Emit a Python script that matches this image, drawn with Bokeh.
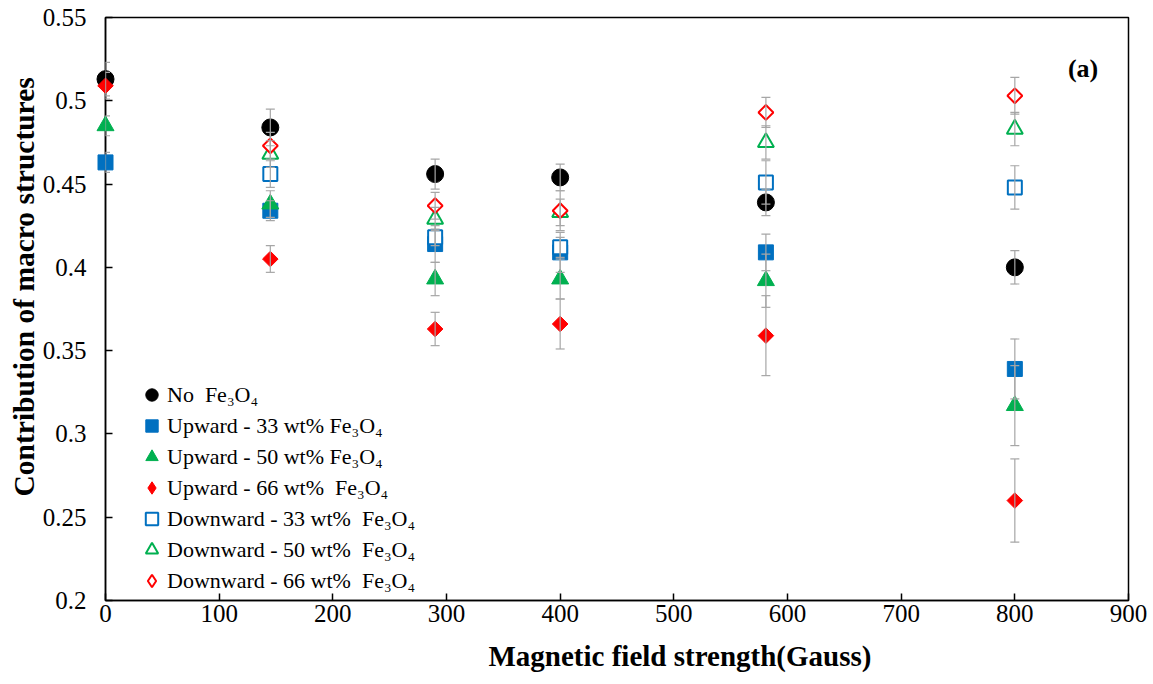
import math
from bokeh.plotting import figure
from bokeh.models import (Range1d, SingleIntervalTicker, NumeralTickFormatter, Whisker,
                          TeeHead, ColumnDataSource, Legend, LegendItem, Label, Title)
from bokeh.embed import file_html
from bokeh.resources import INLINE

x_vals = [0, 145, 290, 400, 581, 800]
x_down = [145, 290, 400, 581, 800]

no_fe = [0.513, 0.484, 0.456, 0.454, 0.439, 0.400]
no_fe_err = [0.010, 0.011, 0.009, 0.008, 0.008, 0.010]

up33 = [0.463, 0.434, 0.414, 0.409, 0.409, 0.339]
up33_err = [0.006, 0.006, 0.011, 0.012, 0.011, 0.018]

up50 = [0.485, 0.438, 0.393, 0.393, 0.392, 0.317]
up50_err = [0.006, 0.008, 0.010, 0.012, 0.016, 0.024]

up66 = [0.509, 0.405, 0.363, 0.366, 0.359, 0.260]
up66_err = [0.008, 0.008, 0.010, 0.015, 0.024, 0.025]

down33 = [0.456, 0.418, 0.412, 0.451, 0.448]
down33_err = [0.008, 0.005, 0.006, 0.013, 0.013]

down50 = [0.468, 0.429, 0.433, 0.475, 0.483]
down50_err = [0.008, 0.007, 0.008, 0.010, 0.010]

down66 = [0.473, 0.437, 0.434, 0.493, 0.503]
down66_err = [0.008, 0.008, 0.012, 0.009, 0.011]

x_title = "Magnetic field strength(Gauss)"
y_title = "Contribution of macro structures"
panel_tag = "(a)"

BLUE = "#0070C0"
GREEN = "#00B050"
RED = "#FF0000"
BLACK = "#000000"
ERR = "#a6a6a6"
FONT = "Liberation Serif"

D = math.pi / 4
# name, x, y, err, marker, colour, filled, size, angle, legend marker
series = [
    ("No  Fe₃O₄", x_vals, no_fe, no_fe_err, "circle", BLACK, True, 17, 0, "circle"),
    ("Upward - 33 wt% Fe₃O₄", x_vals, up33, up33_err, "square", BLUE, True, 15, 0, "square"),
    ("Upward - 50 wt% Fe₃O₄", x_vals, up50, up50_err, "triangle", GREEN, True, 17, 0, "triangle"),
    ("Upward - 66 wt%  Fe₃O₄", x_vals, up66, up66_err, "square", RED, True, 11, D, "diamond"),
    ("Downward - 33 wt%  Fe₃O₄", x_down, down33, down33_err, "square", BLUE, False, 14, 0, "square"),
    ("Downward - 50 wt%  Fe₃O₄", x_down, down50, down50_err, "triangle", GREEN, False, 16, 0, "triangle"),
    ("Downward - 66 wt%  Fe₃O₄", x_down, down66, down66_err, "square", RED, False, 10.5, D, "diamond"),
]

p = figure(width=1153, height=684, output_backend="svg", toolbar_location=None,
           x_range=Range1d(0, 900), y_range=Range1d(0.2, 0.55),
           min_border_left=105, min_border_right=25, min_border_top=17, min_border_bottom=83)
p.xgrid.visible = False
p.ygrid.visible = False
p.outline_line_color = "black"
p.outline_line_width = 1.5
p.background_fill_color = "white"
p.border_fill_color = "white"

p.axis.axis_line_width = 1.5
p.axis.axis_line_color = "black"
p.axis.major_tick_in = 7
p.axis.major_tick_out = 0
p.axis.minor_tick_in = 0
p.axis.minor_tick_out = 0
p.axis.major_tick_line_color = "black"
p.axis.major_tick_line_width = 1.5
p.axis.major_label_text_font = FONT
p.axis.major_label_text_font_size = "25px"
p.axis.major_label_text_color = "black"

p.xaxis[0].ticker = SingleIntervalTicker(interval=100)
p.yaxis[0].ticker = SingleIntervalTicker(interval=0.05)
p.yaxis[0].formatter = NumeralTickFormatter(format="0.[00]")
p.xaxis[0].major_label_standoff = 4
p.yaxis[0].major_label_standoff = 19

# axis titles, positioned like the reference (offset from the frame edge)
p.add_layout(Title(text=x_title, text_font=FONT, text_font_style="bold",
                   text_font_size="29px", text_color="black", align="left",
                   offset=383, standoff=26, text_line_height=0.6), "below")
p.add_layout(Title(text=y_title, text_font=FONT, text_font_style="bold",
                   text_font_size="29.5px", text_color="black", align="left",
                   offset=104, standoff=0), "left")

# error bars first
for name, xs, ys, es, marker, color, filled, size, ang, lm in series:
    src = ColumnDataSource(dict(x=xs, lower=[y - e for y, e in zip(ys, es)],
                                upper=[y + e for y, e in zip(ys, es)]))
    w = Whisker(source=src, base="x", upper="upper", lower="lower",
                line_color=ERR, line_width=1.2, level="overlay",
                upper_head=TeeHead(size=9, line_color=ERR, line_width=1.2),
                lower_head=TeeHead(size=9, line_color=ERR, line_width=1.2))
    p.add_layout(w)

items = []
for name, xs, ys, es, marker, color, filled, size, ang, lm in series:
    src = ColumnDataSource(dict(x=xs, y=ys))
    style = dict(fill_color=color, line_color=color, line_width=1) if filled else \
        dict(fill_color="white", line_color=color, line_width=2)
    r = p.scatter("x", "y", source=src, marker=marker, size=size, angle=ang,
                  level="overlay", **style)
    if lm != marker:
        # legend-only glyph (no visible points) so the legend shows a diamond
        r = p.scatter(x=[float("nan")], y=[float("nan")], marker=lm, size=size,
                      level="overlay", **style)
    items.append(LegendItem(label=name, renderers=[r]))

legend = Legend(items=items, location=(31, 4), border_line_alpha=0,
                background_fill_alpha=0, label_text_font=FONT,
                label_text_font_size="22px", label_text_color="black",
                glyph_width=31, glyph_height=31, label_height=22,
                label_standoff=0, spacing=0, padding=0, margin=0)
p.add_layout(legend)

p.add_layout(Label(x=860, y=0.5194, text=panel_tag, text_font=FONT, text_font_style="bold",
                   text_font_size="26px", text_align="center", text_baseline="middle",
                   text_color="black"))

open("out.html", "w").write(file_html(p, INLINE))
